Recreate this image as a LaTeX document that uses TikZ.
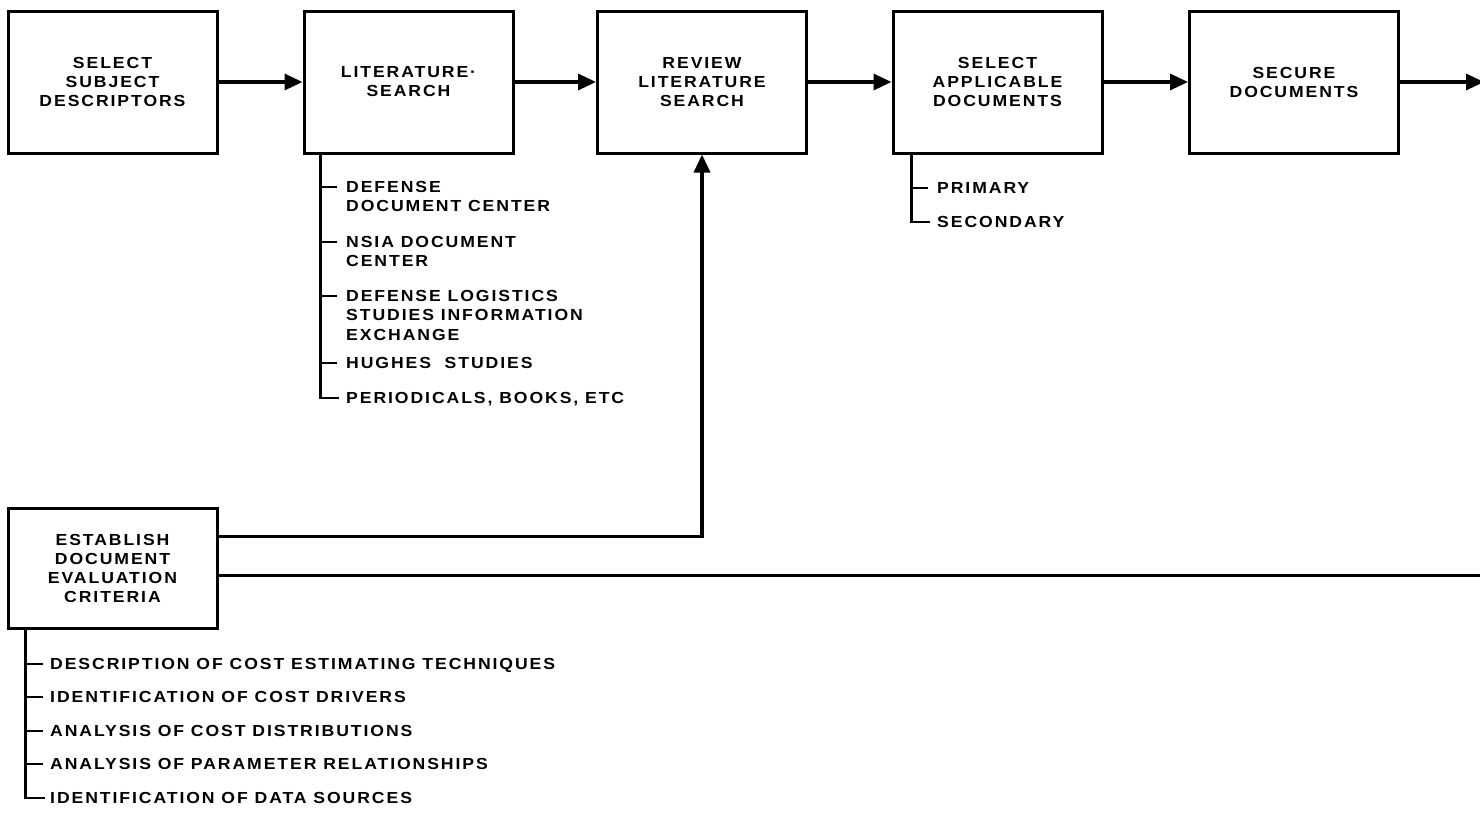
\documentclass[tikz,border=0pt]{standalone}
\usepackage{fontspec}
\setmainfont{Liberation Sans}[LetterSpace=12, FakeStretch=1.1]
\usetikzlibrary{arrows.meta}
\begin{document}
\begin{tikzpicture}[x=1pt,y=-1pt,
  stepbox/.style={draw, line width=3pt, minimum width=209pt, minimum height=142pt,
    align=center, inner sep=0pt, font=\bfseries\fontsize{16}{19}\selectfont},
  conn/.style={line width=3.4pt},
  flow/.style={conn, -{Triangle[length=18pt,width=16pt]}},
  rail/.style={line width=2.8pt},
  item/.style={anchor=north west, align=left, inner sep=0pt,
    font=\bfseries\fontsize{16}{19.5}\selectfont}]
\useasboundingbox (0,0) rectangle (1480,815);

% main process chain
\node[stepbox] (b1) at (112.5,82)  {SELECT\\SUBJECT\\DESCRIPTORS};
\node[stepbox] (b2) at (408.5,82)  {LITERATURE·\\SEARCH};
\node[stepbox] (b3) at (702,82)    {REVIEW\\LITERATURE\\SEARCH};
\node[stepbox] (b4) at (997.5,82)  {SELECT\\APPLICABLE\\DOCUMENTS};
\node[stepbox] (b5) at (1294,82)   {SECURE\\DOCUMENTS};
\node[stepbox, minimum height=120pt] (b6) at (112.5,568)
  {ESTABLISH\\DOCUMENT\\EVALUATION\\CRITERIA};

\coordinate (out1) at (1484,82);
\coordinate (out2) at (1480,575.5);

\draw[flow] (b1) -- (b2);
\draw[flow] (b2) -- (b3);
\draw[flow] (b3) -- (b4);
\draw[flow] (b4) -- (b5);
\draw[flow] (b5) -- (out1);

% criteria feed
\draw[flow] ([yshift=-30pt]b6.north east) -| (b3.south);
\draw[conn] (b6.east |- out2) -- (out2);

% literature sources
\coordinate (s0) at ([xshift=18pt]b2.south west);
\draw[rail] (s0) -- (s0 |- 0,398) -- ++(18,0);
\foreach \y in {187,242,296,363}
  \draw[rail] (s0 |- 0,\y) -- ++(16,0);
\node[item] (l1) at (346,181) {DEFENSE\\DOCUMENT CENTER};
\node[item] (l2) at (346,236) {NSIA DOCUMENT\\CENTER};
\node[item] (l3) at (346,290) {DEFENSE LOGISTICS\\STUDIES INFORMATION\\EXCHANGE};
\node[item] (l4) at (346,357) {HUGHES\ \ STUDIES};
\node[item] (l5) at (346,392) {PERIODICALS, BOOKS, ETC};

% document classes
\coordinate (d0) at ([xshift=20pt]b4.south west);
\draw[rail] (d0) -- (d0 |- 0,222) -- ++(18,0);
\draw[rail] (d0 |- 0,188) -- ++(16,0);
\node[item] (p1) at (937,182) {PRIMARY};
\node[item] (p2) at (937,216) {SECONDARY};

% evaluation criteria
\coordinate (c0) at ([xshift=19pt]b6.south west);
\draw[rail] (c0) -- (c0 |- 0,798) -- ++(19,0);
\foreach \y in {664,697,731,764}
  \draw[rail] (c0 |- 0,\y) -- ++(17,0);
\node[item] (e1) at (50,658) {DESCRIPTION OF COST ESTIMATING TECHNIQUES};
\node[item] (e2) at (50,691) {IDENTIFICATION OF COST DRIVERS};
\node[item] (e3) at (50,725) {ANALYSIS OF COST DISTRIBUTIONS};
\node[item] (e4) at (50,758) {ANALYSIS OF PARAMETER RELATIONSHIPS};
\node[item] (e5) at (50,792) {IDENTIFICATION OF DATA SOURCES};
\end{tikzpicture}
\end{document}
